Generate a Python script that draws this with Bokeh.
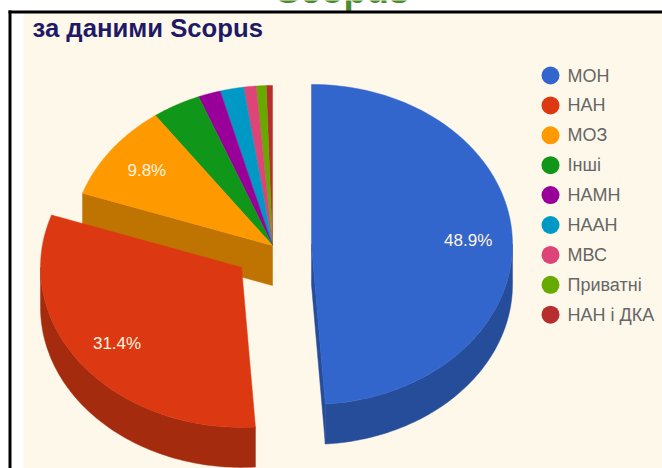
import math
from bokeh.plotting import figure
from bokeh.models import Range1d
from bokeh.core.properties import value
from bokeh.embed import file_html
from bokeh.resources import INLINE

categories = ["МОН", "НАН", "МОЗ", "Інші", "НАМН", "НААН", "МВС", "Приватні", "НАН і ДКА"]
shares = [48.9, 31.4, 9.8, 3.9, 1.8, 1.9, 1.0, 0.8, 0.5]
colors = ["#3366CC", "#DC3912", "#FF9900", "#109618", "#990099", "#0099C6", "#DD4477", "#66AA00", "#B82E2E"]
sides = ["#264D99", "#A52B0E", "#BF7300", "#0C7012", "#730073", "#007394", "#A63359", "#4C8000", "#8A2222"]
explode_x = [0.194, 0.194, 0, 0, 0, 0, 0, 0, 0]
explode_y = [0.194, 0.225, 0, 0, 0, 0, 0, 0, 0]
pct_labels = {0: "48.9%", 1: "31.4%", 2: "9.8%"}

W, H = 662, 468
CX, CY, RX, RY, DEPTH = 272, 245, 201, 160, 40
BG = "#FEF8EA"

p = figure(width=W, height=H, x_range=Range1d(0, W), y_range=Range1d(H, 0),
           output_backend="svg", toolbar_location=None, min_border=0,
           outline_line_color=None, background_fill_color="white", border_fill_color="white",
           margin=0)
p.xaxis.visible = False
p.yaxis.visible = False
p.grid.visible = False

# headings (the upper one is cut by the page edge, as in the source)
p.text([342], [10], text=["Scopus"], text_color="#4F8A2E",
       text_font=value("Liberation Sans"), text_font_style="bold", text_font_size="37px",
       text_align="center", text_baseline="bottom")

# page frame
p.quad(left=[23], right=[W], top=[13], bottom=[H], fill_color=BG, line_color=None)
p.quad(left=[8], right=[W], top=[10], bottom=[13], fill_color="black", line_color=None)
p.quad(left=[8], right=[11], top=[10], bottom=[H], fill_color="black", line_color=None)


def rim(cx, cy, a0, a1, n=90):
    pts = [a0 + (a1 - a0) * i / n for i in range(n + 1)]
    return ([cx + RX * math.sin(math.radians(a)) for a in pts],
            [cy - RY * math.cos(math.radians(a)) for a in pts])


# slice geometry comes from the shares
total = sum(shares)
geo = []
start = 0.0
for s, ex, ey in zip(shares, explode_x, explode_y):
    sweep = s / total * 360
    mid = start + sweep / 2
    cx = CX + ex * RX * math.sin(math.radians(mid))
    cy = CY - ey * RY * math.cos(math.radians(mid))
    geo.append((cx, cy, start, start + sweep))
    start += sweep


def wall(i, a):
    cx, cy = geo[i][:2]
    xe, ye = rim(cx, cy, a, a, 1)
    p.patch([cx, xe[0], xe[0], cx], [cy, ye[0], ye[0] + DEPTH, cy + DEPTH],
            fill_color=sides[i], line_color=sides[i], line_width=0.5)


def top(i):
    cx, cy, a0, a1 = geo[i]
    xs, ys = rim(cx, cy, a0, a1)
    p.patch([cx] + xs, [cy] + ys, fill_color=colors[i], line_color=colors[i], line_width=0.5)


def outer(i):
    cx, cy, a0, a1 = geo[i]
    lo, hi = max(a0, 90), min(a1, 270)
    if lo < hi:
        xs, ys = rim(cx, cy, lo, hi)
        p.patch(xs + xs[::-1], ys + [y + DEPTH for y in ys[::-1]],
                fill_color=sides[i], line_color=sides[i], line_width=0.5)


for i in [8, 7, 6, 5, 4, 3]:
    top(i)
wall(2, geo[2][2])
top(2)
outer(1)
top(1)
wall(0, geo[0][3])
outer(0)
top(0)

# percent labels on the slices
for i, t in pct_labels.items():
    cx, cy, a0, a1 = geo[i]
    m = math.radians((a0 + a1) / 2)
    p.text([cx + 0.78 * RX * math.sin(m)], [cy - 0.78 * RY * math.cos(m)], text=[t],
           text_color="#FFF4E0", text_font=value("Liberation Sans"), text_font_size="17px",
           text_align="center", text_baseline="middle")

# legend
leg_y = [75 + 29.9 * i for i in range(len(categories))]
p.scatter([550] * len(categories), leg_y, size=18, marker="circle", fill_color=colors, line_color=None)
p.text([567] * len(categories), leg_y, text=categories, text_color="#666666",
       text_font=value("Liberation Sans"), text_font_size="18px", text_baseline="middle")

p.text([32], [27], text=["за даними Scopus"], text_color="#1F1A66",
       text_font=value("Liberation Sans"), text_font_style="bold", text_font_size="25.7px",
       text_baseline="middle")

open("out.html", "w").write(file_html(p, INLINE))
